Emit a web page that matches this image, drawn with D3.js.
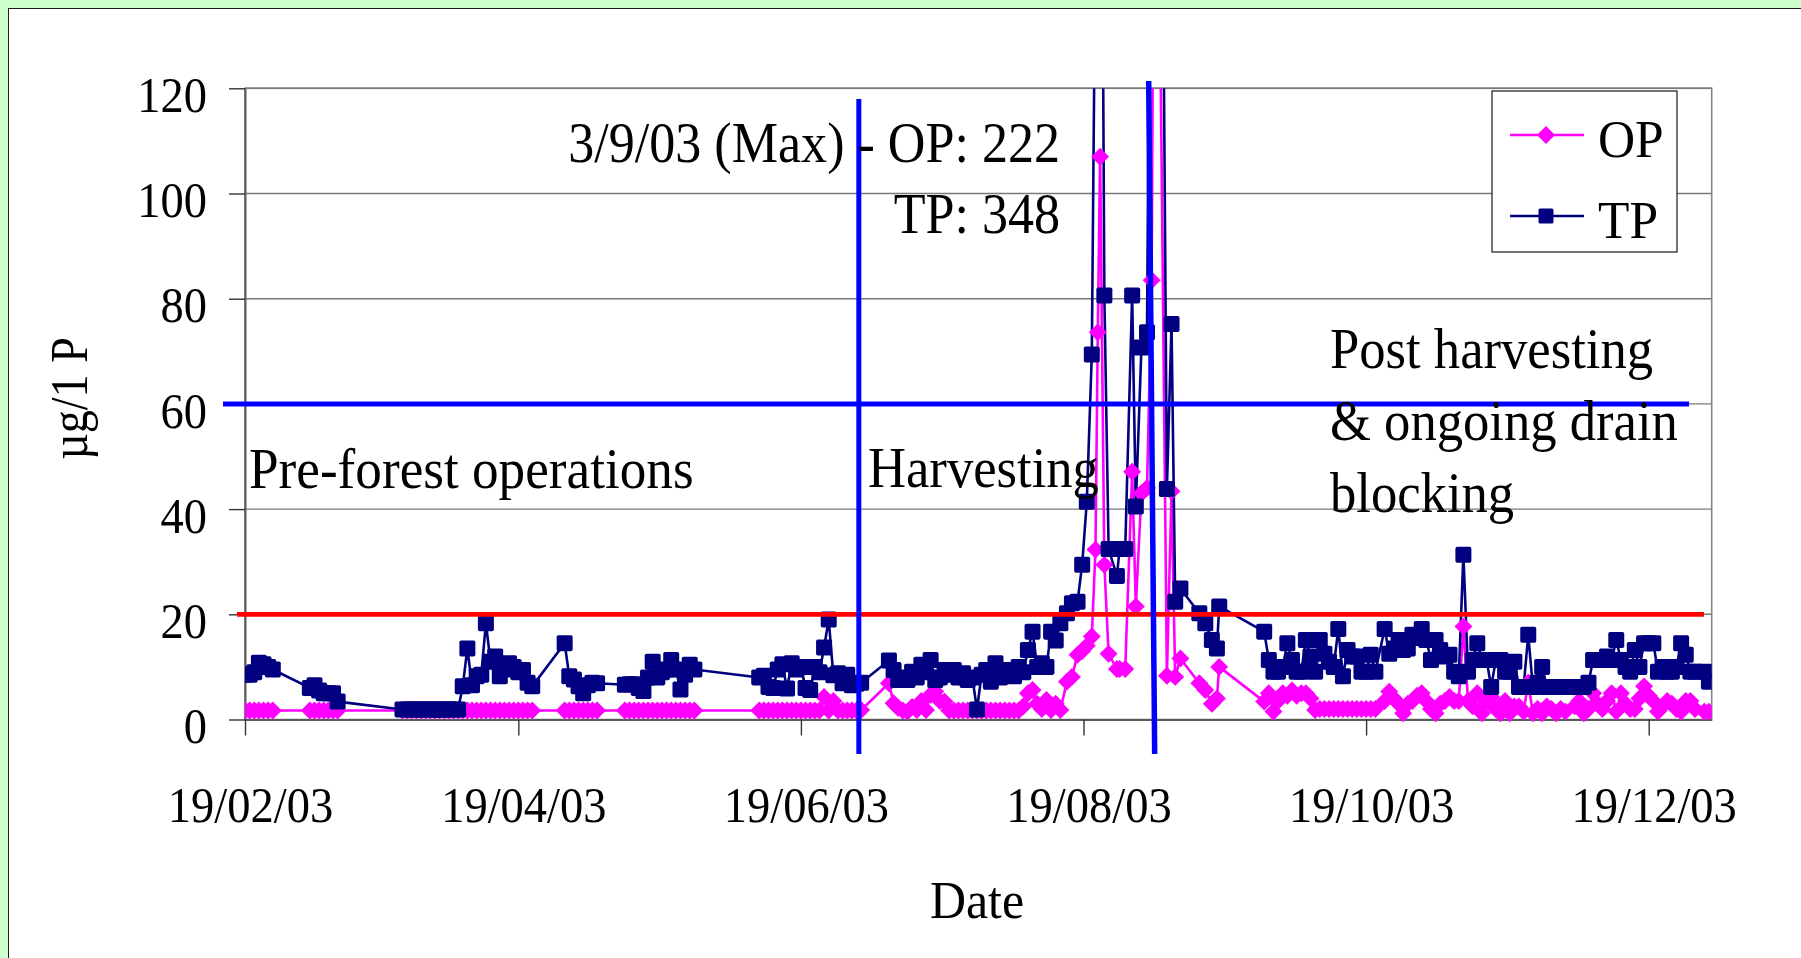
<!DOCTYPE html>
<html><head><meta charset="utf-8">
<script src="https://cdn.jsdelivr.net/npm/d3@7/dist/d3.min.js"></script>
<style>
html,body{margin:0;padding:0;background:#ccffcc;overflow:hidden}
svg{display:block}
text{font-family:"Liberation Serif","Times New Roman",serif;fill:#000}
</style></head><body>
<svg id="chart" width="1801" height="958"></svg>
<script>
// ---------------- data ----------------
const sampleDates = [
 "2003-02-19","2003-02-20","2003-02-21","2003-02-22","2003-02-23","2003-02-24","2003-02-25",
 "2003-03-05","2003-03-06","2003-03-07","2003-03-08","2003-03-09","2003-03-10","2003-03-11",
 "2003-03-25","2003-03-26","2003-03-27","2003-03-28","2003-03-29","2003-03-30","2003-03-31","2003-04-01","2003-04-02","2003-04-03","2003-04-04","2003-04-05","2003-04-06",
 "2003-04-07","2003-04-08","2003-04-09","2003-04-10","2003-04-11","2003-04-12","2003-04-13","2003-04-14","2003-04-15","2003-04-16","2003-04-17","2003-04-18","2003-04-19","2003-04-20","2003-04-21","2003-04-22",
 "2003-04-29","2003-04-30","2003-05-01","2003-05-02","2003-05-03","2003-05-04","2003-05-05","2003-05-06",
 "2003-05-12","2003-05-13","2003-05-14","2003-05-15","2003-05-16","2003-05-17","2003-05-18","2003-05-19","2003-05-20","2003-05-21","2003-05-22","2003-05-23","2003-05-24","2003-05-25","2003-05-26","2003-05-27",
 "2003-06-10","2003-06-11","2003-06-12","2003-06-13","2003-06-14","2003-06-15","2003-06-16","2003-06-17","2003-06-18","2003-06-19","2003-06-20","2003-06-21","2003-06-22","2003-06-23","2003-06-24","2003-06-25","2003-06-26","2003-06-27","2003-06-28","2003-06-29","2003-06-30","2003-07-01",
 "2003-07-02","2003-07-08","2003-07-09","2003-07-10","2003-07-11","2003-07-12","2003-07-13","2003-07-14","2003-07-15","2003-07-16","2003-07-17","2003-07-18","2003-07-19","2003-07-20","2003-07-21","2003-07-22","2003-07-23","2003-07-24","2003-07-25","2003-07-26","2003-07-27","2003-07-28","2003-07-29","2003-07-30","2003-07-31",
 "2003-08-01","2003-08-02","2003-08-03","2003-08-04","2003-08-05","2003-08-06","2003-08-07","2003-08-08","2003-08-09","2003-08-10","2003-08-11","2003-08-12","2003-08-13","2003-08-14",
 "2003-08-15 10:00","2003-08-16 12:00","2003-08-17 17:00","2003-08-18 17:00","2003-08-19 17:00","2003-08-20 19:00","2003-08-21 14:00","2003-08-22 02:00","2003-08-22 14:00","2003-08-23 12:00",
 "2003-08-24 10:00","2003-08-26 05:00","2003-08-26 19:00","2003-08-28 00:00","2003-08-29 12:00","2003-08-30 07:00","2003-08-31 12:00","2003-09-01 17:00","2003-09-02 17:00","2003-09-03 12:00",
 "2003-09-06 00:00","2003-09-07 00:00","2003-09-07 19:00","2003-09-08 22:00","2003-09-13 00:00","2003-09-14 07:00","2003-09-15 17:00","2003-09-16 19:00","2003-09-17 07:00",
 "2003-09-27","2003-09-28","2003-09-29","2003-09-30",
 "2003-10-01","2003-10-02","2003-10-03","2003-10-04","2003-10-05","2003-10-06","2003-10-07","2003-10-08","2003-10-09","2003-10-10","2003-10-11","2003-10-12","2003-10-13","2003-10-14","2003-10-15","2003-10-16","2003-10-17","2003-10-18","2003-10-19","2003-10-20","2003-10-21","2003-10-23","2003-10-24","2003-10-25","2003-10-26","2003-10-27","2003-10-28","2003-10-29","2003-10-30","2003-10-31",
 "2003-11-01","2003-11-02","2003-11-03","2003-11-04","2003-11-05","2003-11-06","2003-11-07","2003-11-08","2003-11-09","2003-11-10","2003-11-11","2003-11-12","2003-11-13","2003-11-14","2003-11-15","2003-11-16","2003-11-17","2003-11-18","2003-11-19","2003-11-20","2003-11-21","2003-11-22","2003-11-23","2003-11-24","2003-11-25","2003-11-26","2003-11-27","2003-11-28","2003-11-29","2003-11-30",
 "2003-12-01","2003-12-03","2003-12-04","2003-12-05","2003-12-06","2003-12-07","2003-12-08","2003-12-09","2003-12-10","2003-12-11","2003-12-12","2003-12-13","2003-12-14","2003-12-15","2003-12-16","2003-12-17","2003-12-18","2003-12-19","2003-12-20","2003-12-21","2003-12-22","2003-12-23","2003-12-24","2003-12-25","2003-12-26","2003-12-27","2003-12-28","2003-12-29","2003-12-31","2004-01-01"
];
const opValues = [
 1.7,1.7,1.7,1.7,1.7,1.7,1.7,
 1.7,1.7,1.7,1.7,1.7,1.7,1.7,
 1.7,1.7,1.7,1.7,1.7,1.7,1.7,1.7,1.7,1.7,1.7,1.7,1.7,
 1.7,1.7,1.7,1.7,1.7,1.7,1.7,1.7,1.7,1.7,1.7,1.7,1.7,1.7,1.7,1.7,
 1.7,1.7,1.7,1.7,1.7,1.7,1.7,1.7,
 1.7,1.7,1.7,1.7,1.7,1.7,1.7,1.7,1.7,1.7,1.7,1.7,1.7,1.7,1.7,1.7,
 1.7,1.7,1.7,1.7,1.7,1.7,1.7,1.7,1.7,1.7,1.7,1.7,1.7,1.7,4.3,1.7,3.5,1.7,1.7,1.7,1.7,1.7,
 1.8,6.9,3.1,2.2,1.7,1.5,2.4,1.8,3.5,1.8,4.7,5.3,3.5,3.4,1.7,1.7,1.7,1.7,1.7,1.7,1.7,1.7,1.7,1.7,1.7,
 1.7,1.7,1.7,1.7,1.7,2.5,5.0,5.6,3.0,2.0,3.7,1.8,3.0,1.8,
 7.2,8.1,12.3,13.0,14.0,15.8,32.3,73.6,107,29.4,
 12.5,9.6,9.6,9.6,47.1,21.5,43.0,44.0,83.5,222,
 8.3,43.4,8.1,11.6,6.9,5.6,3.0,4.0,10.0,
 3.4,5.0,1.5,3.5,
 5.0,4.5,5.5,4.5,5.0,5.0,4.0,1.8,2.0,2.0,2.0,2.0,2.0,2.0,2.0,2.0,2.0,2.0,2.0,2.0,2.0,3.5,5.3,4.0,3.0,1.2,3.0,3.5,4.5,5.0,
 3.5,2.0,1.2,3.0,3.5,4.3,3.5,3.5,17.7,3.5,2.5,5.0,1.2,3.5,4.3,2.0,1.2,3.5,1.2,2.5,2.5,1.5,7.0,1.2,2.0,1.2,2.5,2.0,1.2,2.0,
 1.5,2.5,3.5,1.2,2.0,5.0,3.0,2.0,3.5,5.0,1.5,5.0,3.0,2.0,2.0,4.0,6.3,4.5,3.5,1.5,2.5,3.5,3.0,2.0,1.5,3.5,3.5,2.0,1.5,1.5
];
const tpValues = [
 8.5,8.5,9.0,10.8,10.5,10.0,9.5,
 6.0,6.5,5.5,5.0,5.0,5.0,3.4,
 1.9,1.9,1.9,1.9,1.9,1.9,1.9,1.9,1.9,1.9,1.9,1.9,1.9,
 6.3,13.5,6.5,8.2,8.5,18.3,11.0,12.0,8.2,9.5,10.7,10.0,9.0,9.4,7.0,6.3,
 14.5,8.2,7.6,6.3,5.0,6.5,7.0,6.9,
 6.6,6.7,6.7,6.0,5.4,8.0,11.0,8.0,9.0,9.5,11.3,9.5,5.7,8.5,10.4,9.5,
 8.0,8.3,6.2,6.0,9.5,10.5,5.9,10.7,9.5,10.0,6.0,5.6,10.0,9.0,13.7,19.0,8.4,8.8,6.9,8.5,6.5,6.8,
 7.0,11.2,9.4,7.5,8.0,7.5,9.1,8.0,10.4,9.0,11.3,7.5,8.0,9.4,8.5,9.4,8.0,8.8,7.5,8.0,1.9,8.5,9.4,7.2,10.7,
 8.0,9.4,8.5,8.2,10.0,9.0,13.2,16.7,10.0,10.7,10.0,16.7,15.0,18.3,
 20.2,22.1,22.4,29.4,41.4,69.4,150,190,230,80.6,
 32.4,27.3,32.4,32.4,80.6,40.5,70.7,73.6,200,348,
 43.8,75.2,22.4,24.9,20.2,18.3,15.1,13.5,21.5,
 16.7,11.3,9.1,9.1,
 10.0,14.5,11.3,9.1,9.1,15.1,12.0,9.1,15.1,12.5,11.0,10.0,17.2,8.2,13.2,12.0,12.0,9.1,9.1,12.3,9.1,17.2,12.5,13.5,15.1,13.2,13.5,16.1,15.5,17.2,
 15.1,11.3,15.1,13.2,12.0,12.3,9.1,8.2,31.3,9.1,11.3,14.5,11.3,11.3,6.2,11.3,11.3,9.1,9.1,11.0,6.2,6.2,16.1,6.2,7.0,10.0,6.2,6.2,6.2,6.2,
 6.2,6.2,6.2,6.2,7.0,11.3,11.3,11.3,12.0,11.3,15.1,11.3,10.0,9.1,13.2,10.0,14.5,14.5,14.5,9.1,10.0,9.1,9.1,10.0,14.5,12.3,9.1,9.1,9.1,7.2
];
const seriesNames = ["OP","TP"];
const yTickValues = [0,20,40,60,80,100,120];
const xTickLabels = ["2003-02-19","2003-04-19","2003-06-19","2003-08-19","2003-10-19","2003-12-19"];
const thresholdValues = [20,60];           // red line, blue line
const phaseBoundaryDates = ["2003-07-01 12:00","2003-09-02 12:00"];
const maxNoteLines = ["3/9/03 (Max) - OP: 222","TP: 348"];
const phaseLabels = ["Pre-forest operations","Harvesting"];
const postLabelLines = ["Post harvesting","& ongoing drain","blocking"];

// ---------------- chart ----------------
const parseA = d3.timeParse("%Y-%m-%d %H:%M"), parseB = d3.timeParse("%Y-%m-%d");
const parse = s => parseA(s) || parseB(s);
const svg = d3.select("#chart");
const FONT_SX = 0.93;

svg.append("rect").attr("x",8.5).attr("y",8.5).attr("width",1800).attr("height",960)
  .attr("fill","#fff").attr("stroke","#1a1a1a").attr("stroke-width",1);

const L = 245, R = 1711.7, T = 88.3, B = 719.5;
const x = d3.scaleTime().domain([parse("2003-02-19"), parse("2004-01-01 14:24")]).range([L, R]);
const y = d3.scaleLinear().domain([0,120]).range([B, T]);

// plot area
svg.append("rect").attr("x",L).attr("y",T).attr("width",R-L).attr("height",B-T)
  .attr("fill","#fff").attr("stroke","#858585").attr("stroke-width",1.6);
svg.append("g").selectAll("line").data(yTickValues.filter(v=>v>0)).join("line")
  .attr("x1",L).attr("x2",R).attr("y1",d=>y(d)).attr("y2",d=>y(d))
  .attr("stroke","#7a7a7a").attr("stroke-width",1.4);

function label(g, px, py, s, size, anchor, sx){
  return g.append("text").attr("transform",`translate(${px},${py}) scale(${sx||FONT_SX},1)`)
    .attr("text-anchor",anchor||"start").attr("font-size",size).text(s);
}

// y axis
const yAxis = svg.append("g").attr("transform",`translate(${L},0)`)
  .call(d3.axisLeft(y).tickValues(yTickValues).tickSize(16).tickSizeOuter(0).tickFormat(d3.format("d")));
yAxis.select(".domain").attr("stroke","#5a5a5a").attr("stroke-width",2);
yAxis.selectAll(".tick line").attr("stroke","#333").attr("stroke-width",1.4);
yAxis.selectAll(".tick text").attr("x",null).attr("dy",null).attr("fill","#000")
  .attr("transform",`translate(-38,23.2) scale(${FONT_SX},1)`)
  .attr("font-size",50).attr("font-family","'Liberation Serif','Times New Roman',serif");

// x axis
const xAxis = svg.append("g").attr("transform",`translate(0,${B})`)
  .call(d3.axisBottom(x).tickValues(xTickLabels.map(parse)).tickSize(16).tickSizeOuter(0).tickFormat(d3.timeFormat("%d/%m/%y")));
xAxis.select(".domain").attr("stroke","#5a5a5a").attr("stroke-width",2.2);
xAxis.selectAll(".tick line").attr("stroke","#333").attr("stroke-width",1.4);
xAxis.selectAll(".tick text").attr("y",null).attr("dy",null).attr("fill","#000")
  .attr("transform",`translate(5,102.2) scale(${FONT_SX},1)`)
  .attr("font-size",50).attr("font-family","'Liberation Serif','Times New Roman',serif");

// titles
label(svg, 977, 918, "Date", 52, "middle", 0.96);
svg.append("text").attr("transform","translate(87,398.5) rotate(-90) scale(0.87,1)")
  .attr("text-anchor","middle").attr("font-size",53).text("\u00B5g/1 P");

// series
const rows = sampleDates.map((s,i)=>({date:parse(s), op:opValues[i], tp:tpValues[i]}));
svg.append("clipPath").attr("id","plotclip").append("rect")
  .attr("x",L).attr("y",T).attr("width",R-L).attr("height",B-T+10);
const plot = svg.append("g").attr("clip-path","url(#plotclip)");
const colors = {OP:"#ff00ff", TP:"#000080"};
const keys = {OP:"op", TP:"tp"};
seriesNames.forEach(n=>{
  const k = keys[n];
  plot.append("path").datum(rows.filter(r=>r[k]!=null))
    .attr("fill","none").attr("stroke",colors[n]).attr("stroke-width",2.6).attr("stroke-linejoin","round")
    .attr("d", d3.line().x(r=>x(r.date)).y(r=>y(r[k])));
});
const SQ = 16;
const diamond = d3.symbol().type(d3.symbolDiamond2).size(205);
plot.append("g").selectAll("path").data(rows.filter(r=>r.op!=null && r.op<=121)).join("path")
  .attr("d",diamond).attr("transform",r=>`translate(${x(r.date)},${y(r.op)})`).attr("fill",colors.OP);
plot.append("g").selectAll("rect").data(rows.filter(r=>r.tp!=null && r.tp<=121)).join("rect")
  .attr("x",r=>x(r.date)-SQ/2).attr("y",r=>y(r.tp)-SQ/2).attr("width",SQ).attr("height",SQ)
  .attr("rx",1.8).attr("fill",colors.TP);

// threshold lines (drawn shapes)
svg.append("line").attr("x1",237).attr("x2",1704).attr("y1",y(thresholdValues[0])).attr("y2",y(thresholdValues[0]))
  .attr("stroke","#ff0000").attr("stroke-width",4.8);
svg.append("line").attr("x1",223).attr("x2",1689).attr("y1",y(thresholdValues[1])).attr("y2",y(thresholdValues[1]))
  .attr("stroke","#0000ff").attr("stroke-width",5);
const b1 = x(parse(phaseBoundaryDates[0])), b2 = x(parse(phaseBoundaryDates[1]));
svg.append("line").attr("x1",b1).attr("x2",b1).attr("y1",99).attr("y2",754)
  .attr("stroke","#0000ff").attr("stroke-width",5);
svg.append("line").attr("x1",b2-2).attr("x2",b2+4).attr("y1",81).attr("y2",754)
  .attr("stroke","#0000ff").attr("stroke-width",5.5);

// annotations
label(svg, 1060, 162, maxNoteLines[0], 56, "end");
label(svg, 1060, 233, maxNoteLines[1], 56, "end");
label(svg, 249, 488, phaseLabels[0], 56, "start", 0.95);
label(svg, 868, 487, phaseLabels[1], 56, "start", 0.94);
postLabelLines.forEach((s,i)=>label(svg, 1330, 368+72*i, s, 56, "start", 0.94));

// legend
const lg = svg.append("g");
lg.append("rect").attr("x",1492).attr("y",91).attr("width",185).attr("height",161)
  .attr("fill","#fff").attr("stroke","#1a1a1a").attr("stroke-width",1.2);
const legendY = [135,216];
seriesNames.forEach((n,i)=>{
  lg.append("line").attr("x1",1510).attr("x2",1584).attr("y1",legendY[i]).attr("y2",legendY[i])
    .attr("stroke",colors[n]).attr("stroke-width",2.6);
  if(n==="OP") lg.append("path").attr("d",diamond).attr("transform",`translate(1546,${legendY[i]})`).attr("fill",colors[n]);
  else lg.append("rect").attr("x",1546-7.5).attr("y",legendY[i]-7.5).attr("width",15).attr("height",15).attr("rx",1.5).attr("fill",colors[n]);
  label(lg, 1598, legendY[i]+21.5, n, 53, "start", 0.97);
});
</script>
</body></html>
